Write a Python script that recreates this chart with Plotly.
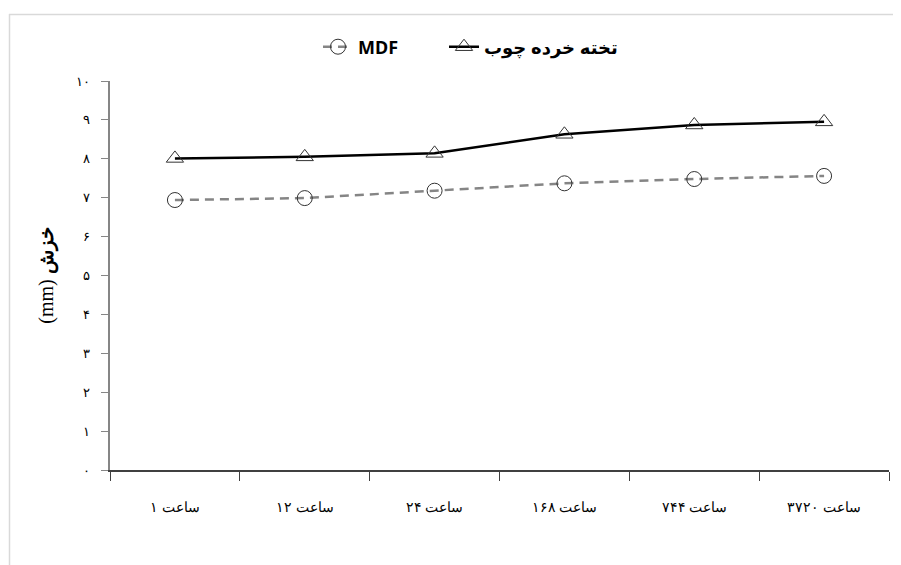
import plotly.graph_objects as go

categories = ["ساعت ۱", "ساعت ۱۲", "ساعت ۲۴", "ساعت ۱۶۸", "ساعت ۷۴۴", "ساعت ۳۷۲۰"]
mdf_values = [6.94, 6.99, 7.18, 7.37, 7.48, 7.56]
chipboard_values = [8.01, 8.05, 8.14, 8.63, 8.87, 8.95]
y_tick_vals = [0, 1, 2, 3, 4, 5, 6, 7, 8, 9, 10]
y_tick_text = ["۰", "۱", "۲", "۳", "۴", "۵", "۶", "۷", "۸", "۹", "۱۰"]
name_mdf = "MDF"
name_chip = "\u200eتخته خرده چوب"
y_title = "(mm) <b>خزش</b>"

serif = "Liberation Serif, DejaVu Serif, serif"

fig = go.Figure()
fig.add_trace(go.Scatter(
    x=categories, y=mdf_values, name=name_mdf, mode="lines+markers", legend="legend",
    line=dict(color="#858585", width=2.5, dash="9px,6px"),
    marker=dict(symbol="circle-open", size=15, color="#333333", line=dict(width=1, color="#333333")),
))
fig.add_trace(go.Scatter(
    x=categories, y=chipboard_values, name=name_chip, mode="lines+markers", legend="legend2",
    line=dict(color="#000000", width=2.5),
    marker=dict(symbol="triangle-up-open", size=15, color="#333333", line=dict(width=1, color="#333333")),
))

OFF = 8
W, H = 901 - OFF, 565 - OFF
L = 110 - OFF
T = 81 - OFF
R = W - (889 - OFF)
B = H - (470 - OFF)
pw, ph = W - L - R, H - T - B
def px(xr): return (xr - OFF - L) / pw
def py(yr): return (H - B - (yr - OFF)) / ph

legend_font = dict(family="Noto Sans, DejaVu Sans, sans-serif", size=18, color="#000000", weight="bold")
fig.update_layout(
    width=W, height=H,
    margin=dict(l=L, r=R, t=T, b=B),
    paper_bgcolor="white", plot_bgcolor="white",
    showlegend=True,
    legend=dict(orientation="h", x=px(318), xanchor="left", y=py(47), yanchor="middle", font=legend_font),
    legend2=dict(orientation="h", x=px(444), xanchor="left", y=py(47), yanchor="middle", font=legend_font),
    shapes=[
        dict(type="line", xref="paper", yref="paper", x0=px(9), x1=px(905), y0=py(14.5), y1=py(14.5),
             line=dict(color="#d9d9d9", width=1.5)),
        dict(type="line", xref="paper", yref="paper", x0=px(9.5), x1=px(9.5), y0=py(14), y1=py(570),
             line=dict(color="#d9d9d9", width=1.5)),
    ],
)
fig.update_xaxes(
    type="category", range=[-0.5, 5.5], showgrid=False, zeroline=False,
    showline=True, linecolor="#404040", linewidth=1.5,
    ticks="outside", tickson="boundaries", ticklen=9, tickcolor="#404040", tickwidth=1,
    ticklabelstandoff=23,
    tickfont=dict(family=serif, size=14, color="#000000"),
)
fig.update_yaxes(
    range=[0, 10], showgrid=False, zeroline=False,
    showline=True, linecolor="#868686", linewidth=1.5,
    ticks="outside", ticklen=7, tickcolor="#868686", tickwidth=1,
    tickvals=y_tick_vals, ticktext=y_tick_text,
    ticklabelstandoff=9,
    tickfont=dict(family=serif, size=13, color="#000000"),
    title=dict(text=y_title, font=dict(family=serif, size=20, color="#000000"), standoff=17),
)

fig.write_html("out.html")
